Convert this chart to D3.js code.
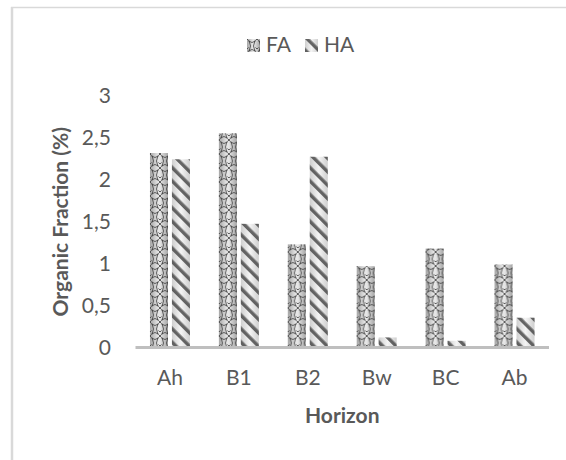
<!DOCTYPE html>
<html>
<head>
<meta charset="utf-8">
<script src="https://cdn.jsdelivr.net/npm/d3@7"></script>
<style>
  body { margin: 0; background: #fff; }
  text { font-family: Lato, "Open Sans", sans-serif; fill: #595959; }
</style>
</head>
<body>
<div id="chart"></div>
<script>
const horizons = ["Ah", "B1", "B2", "Bw", "BC", "Ab"];
const series = ["FA", "HA"];
const faValues = [2.32, 2.555, 1.23, 0.97, 1.18, 0.99];
const haValues = [2.245, 1.475, 2.275, 0.12, 0.08, 0.355];
const yTicks = [0, 0.5, 1, 1.5, 2, 2.5, 3];

const width = 566, height = 460;
const plot = { left: 135.5, right: 549, top: 96, bottom: 347.5 };

const svg = d3.select("#chart").append("svg")
  .attr("width", width)
  .attr("height", height);

// frame lines
svg.append("line")
  .attr("x1", 11).attr("x2", 566).attr("y1", 7.5).attr("y2", 7.5)
  .attr("stroke", "#d9d9d9").attr("stroke-width", 1.5);
svg.append("line")
  .attr("x1", 12).attr("x2", 12).attr("y1", 7).attr("y2", height)
  .attr("stroke", "#d9d9d9").attr("stroke-width", 2.5);

const defs = svg.append("defs");

// cylinder-like shading
const grad = defs.append("linearGradient").attr("id", "shade")
  .attr("x1", "0").attr("x2", "1").attr("y1", "0").attr("y2", "0");
grad.append("stop").attr("offset", "0").attr("stop-color", "#a6a6a6");
grad.append("stop").attr("offset", "0.45").attr("stop-color", "#e6e6e6");
grad.append("stop").attr("offset", "0.55").attr("stop-color", "#e6e6e6");
grad.append("stop").attr("offset", "1").attr("stop-color", "#a6a6a6");

const grad2 = defs.append("linearGradient").attr("id", "shadeLight")
  .attr("x1", "0").attr("x2", "1").attr("y1", "0").attr("y2", "0");
grad2.append("stop").attr("offset", "0").attr("stop-color", "#cfcfcf");
grad2.append("stop").attr("offset", "0.5").attr("stop-color", "#f4f4f4");
grad2.append("stop").attr("offset", "1").attr("stop-color", "#cfcfcf");

// FA lattice: rounded cells with small crosses at the joints
const lattice = defs.append("pattern").attr("id", "lattice")
  .attr("patternUnits", "userSpaceOnUse")
  .attr("width", 10).attr("height", 14);
lattice.append("path")
  .attr("d", "M1.5,2 Q5,5 8.5,2 M1.5,12 Q5,9 8.5,12 M2,1.5 Q5,7 2,12.5 M8,1.5 Q5,7 8,12.5" +
    " M-1.5,-1.5 L1.5,1.5 M8.5,8.5 L11.5,11.5 M8.5,1.5 L11.5,-1.5 M-1.5,15.5 L1.5,12.5" +
    " M8.5,12.5 L11.5,15.5 M-1.5,11.5 L1.5,8.5")
  .attr("fill", "none").attr("stroke", "#3a3a3a").attr("stroke-width", 1)
  .attr("opacity", 0.8);

// HA stripes
const stripes = defs.append("pattern").attr("id", "stripes")
  .attr("patternUnits", "userSpaceOnUse")
  .attr("width", 9.5).attr("height", 9.5)
  .attr("patternTransform", "rotate(-45)");
stripes.append("rect")
  .attr("x", 0).attr("y", 0).attr("width", 3.4).attr("height", 9.5)
  .attr("fill", "#3f3f3f").attr("opacity", 0.78);

const x0 = d3.scaleBand()
  .domain(horizons)
  .range([plot.left, plot.right])
  .paddingInner(0.42)
  .paddingOuter(0.21);

const x1 = d3.scaleBand()
  .domain(series)
  .range([0, x0.bandwidth()])
  .paddingInner(0.18);

const y = d3.scaleLinear()
  .domain([0, 3])
  .range([plot.bottom, plot.top]);

const styles = {
  FA: { base: "url(#shade)", overlay: "url(#lattice)" },
  HA: { base: "url(#shadeLight)", overlay: "url(#stripes)" }
};

const rows = horizons.map((h, i) => ({
  horizon: h,
  values: [{ key: "FA", value: faValues[i] }, { key: "HA", value: haValues[i] }]
}));

const groups = svg.append("g").selectAll("g")
  .data(rows)
  .join("g")
  .attr("transform", d => `translate(${x0(d.horizon)},0)`);

groups.selectAll("rect.base")
  .data(d => d.values)
  .join("rect")
  .attr("class", "base")
  .attr("x", d => x1(d.key))
  .attr("y", d => y(d.value))
  .attr("width", x1.bandwidth())
  .attr("height", d => y(0) - y(d.value))
  .attr("fill", d => styles[d.key].base);

groups.selectAll("rect.overlay")
  .data(d => d.values)
  .join("rect")
  .attr("class", "overlay")
  .attr("x", d => x1(d.key))
  .attr("y", d => y(d.value))
  .attr("width", x1.bandwidth())
  .attr("height", d => y(0) - y(d.value))
  .attr("fill", d => styles[d.key].overlay);

// x axis line
svg.append("line")
  .attr("x1", plot.left).attr("x2", plot.right)
  .attr("y1", y(0)).attr("y2", y(0))
  .attr("stroke", "#bfbfbf").attr("stroke-width", 3);

// y tick labels
const yAxis = d3.axisLeft(y)
  .tickValues(yTicks)
  .tickSize(0)
  .tickPadding(0)
  .tickFormat(d => String(d).replace(".", ","));
const gy = svg.append("g")
  .attr("transform", `translate(111,0)`)
  .call(yAxis);
gy.select(".domain").remove();
gy.selectAll("text")
  .attr("font-size", 21)
  .attr("font-family", null)
  .attr("fill", null);

// x tick labels
const xAxis = d3.axisBottom(x0).tickSize(0).tickPadding(0);
const gx = svg.append("g")
  .attr("transform", `translate(0,370)`)
  .call(xAxis);
gx.select(".domain").remove();
gx.selectAll("text")
  .attr("font-size", 21)
  .attr("font-family", null)
  .attr("fill", null)
  .attr("dy", "0.71em");

// axis titles
svg.append("text")
  .attr("x", (plot.left + plot.right) / 2)
  .attr("y", 423)
  .attr("text-anchor", "middle")
  .attr("font-size", 21)
  .attr("font-weight", "bold")
  .text("Horizon");

svg.append("text")
  .attr("transform", `translate(68,${(plot.top + plot.bottom) / 2}) rotate(-90)`)
  .attr("text-anchor", "middle")
  .attr("font-size", 21)
  .attr("font-weight", "bold")
  .text("Organic Fraction (%)");

// legend
const legendX = { FA: 247, HA: 305 };
const legend = svg.append("g").selectAll("g")
  .data(series)
  .join("g")
  .attr("transform", d => `translate(${legendX[d]},39)`);
legend.append("rect")
  .attr("width", 13).attr("height", 13)
  .attr("fill", d => styles[d].base);
legend.append("rect")
  .attr("width", 13).attr("height", 13)
  .attr("fill", d => styles[d].overlay);
legend.append("text")
  .attr("x", 19)
  .attr("y", 13)
  .attr("font-size", 21)
  .text(d => d);
</script>
</body>
</html>
